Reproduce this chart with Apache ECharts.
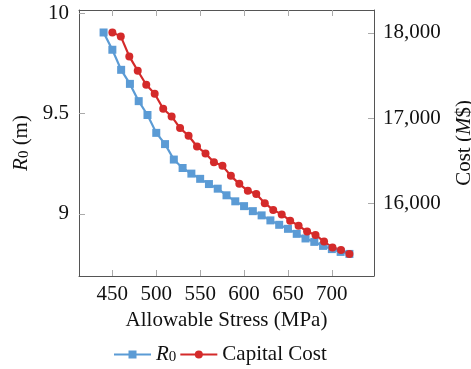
<!DOCTYPE html>
<html>
<head>
<meta charset="utf-8">
<script src="https://cdn.jsdelivr.net/npm/echarts@6/dist/echarts.min.js"></script>
<style>
html,body{margin:0;padding:0;background:#fff;}
#c{width:471px;height:369px;}
</style>
</head>
<body>
<div id="c"></div>
<script>
// Data
var stressR0 = [440,450,460,470,480,490,500,510,520,530,540,550,560,570,580,590,600,610,620,630,640,650,660,670,680,690,700,710,720];
var r0 = [9.903,9.817,9.717,9.647,9.561,9.492,9.403,9.347,9.270,9.228,9.200,9.174,9.148,9.125,9.092,9.062,9.038,9.013,8.992,8.967,8.945,8.925,8.900,8.877,8.860,8.840,8.824,8.810,8.800];
var stressCost = [450,459.6,469.3,478.9,488.6,498.2,507.9,517.5,527.1,536.8,546.4,556.1,565.7,575.4,585,594.6,604.3,613.9,623.6,633.2,642.9,652.5,662.1,671.8,681.4,691.1,700.7,710.4,720];
var cost = [18007,17960,17725,17556,17392,17286,17109,17019,16882,16792,16666,16584,16480,16439,16321,16227,16145,16109,16000,15921,15868,15794,15736,15666,15627,15548,15478,15451,15404];
var xTicks = [450,500,550,600,650,700];
var r0Ticks = [9,9.5,10];
var costTicks = [16000,17000,18000];

var FONT = 'Liberation Serif';
var FS = 21;
var axisLineColor = '#555';
var tickColor = '#aaa';

function pairs(xs, ys){ return xs.map(function(x,i){ return [x, ys[i]]; }); }

var rich = {i:{fontFamily:FONT, fontStyle:'italic', fontSize:FS, color:'#111'},
            s:{fontFamily:FONT, fontSize:15, color:'#111', verticalAlign:'bottom', lineHeight:15}};

var chart = echarts.init(document.getElementById('c'), null, {renderer:'canvas'});
chart.setOption({
  animation:false,
  backgroundColor:'#fff',
  textStyle:{fontFamily:FONT},
  grid:{left:79, right:97, top:10, bottom:93, containLabel:false, outerBoundsMode:'none'},
  legend:{
    top:339, left:108,
    itemWidth:37, itemHeight:10, itemGap:3,
    textStyle:{fontFamily:FONT, fontSize:FS, color:'#111', rich:rich},
    formatter:function(n){ return n==='R0' ? '{i|R}{s|0}' : n; },
    data:['R0','Capital Cost']
  },
  xAxis:[{
    type:'value', min:412, max:748, position:'bottom',
    name:'Allowable Stress (MPa)', nameLocation:'middle', nameGap:33,
    nameTextStyle:{fontFamily:FONT, fontSize:FS, color:'#111'},
    axisLine:{show:true, lineStyle:{color:axisLineColor, width:1}},
    axisTick:{show:true, inside:true, length:6, customValues:xTicks, lineStyle:{color:tickColor}},
    axisLabel:{show:true, margin:8, customValues:xTicks, fontFamily:FONT, fontSize:FS, color:'#111'},
    splitLine:{show:false}
  },{
    type:'value', min:412, max:748, position:'top',
    axisLine:{show:true, lineStyle:{color:axisLineColor, width:1}},
    axisTick:{show:true, inside:true, length:6, customValues:xTicks, lineStyle:{color:tickColor}},
    axisLabel:{show:false},
    splitLine:{show:false}
  }],
  yAxis:[{
    type:'value', min:8.69, max:10.015, position:'left',
    name:'{i|R}{s|0} (m)', nameLocation:'middle', nameGap:34, nameRotate:90,
    nameTextStyle:{fontFamily:FONT, fontSize:FS, color:'#111', rich:rich},
    axisLine:{show:true, lineStyle:{color:axisLineColor, width:1}},
    axisTick:{show:true, inside:true, length:6, customValues:r0Ticks, lineStyle:{color:tickColor}},
    axisLabel:{show:true, margin:10, customValues:r0Ticks, fontFamily:FONT, fontSize:FS, color:'#111',
      formatter:function(v){ return String(Math.round(v*10)/10); }},
    splitLine:{show:false}
  },{
    type:'value', min:15144, max:18270, position:'right',
    name:'Cost ({i|M}$)', nameLocation:'middle', nameGap:80, nameRotate:90,
    nameTextStyle:{fontFamily:FONT, fontSize:FS, color:'#111', rich:rich},
    axisLine:{show:true, lineStyle:{color:axisLineColor, width:1}},
    axisTick:{show:true, inside:true, length:6, customValues:costTicks, lineStyle:{color:tickColor}},
    axisLabel:{show:true, margin:9, customValues:costTicks, fontFamily:FONT, fontSize:FS, color:'#111',
      formatter:function(v){ return Math.round(v).toString().replace(/\B(?=(\d{3})+(?!\d))/g, ','); }},
    splitLine:{show:false}
  }],
  series:[{
    name:'R0', type:'line', xAxisIndex:0, yAxisIndex:0,
    data:pairs(stressR0, r0),
    symbol:'rect', symbolSize:8,
    lineStyle:{color:'#5b9bd5', width:2.2},
    itemStyle:{color:'#5b9bd5'}
  },{
    name:'Capital Cost', type:'line', xAxisIndex:0, yAxisIndex:1,
    data:pairs(stressCost, cost),
    symbol:'circle', symbolSize:8,
    lineStyle:{color:'#d42a2a', width:2.2},
    itemStyle:{color:'#d42a2a'}
  }]
});
</script>
</body>
</html>
